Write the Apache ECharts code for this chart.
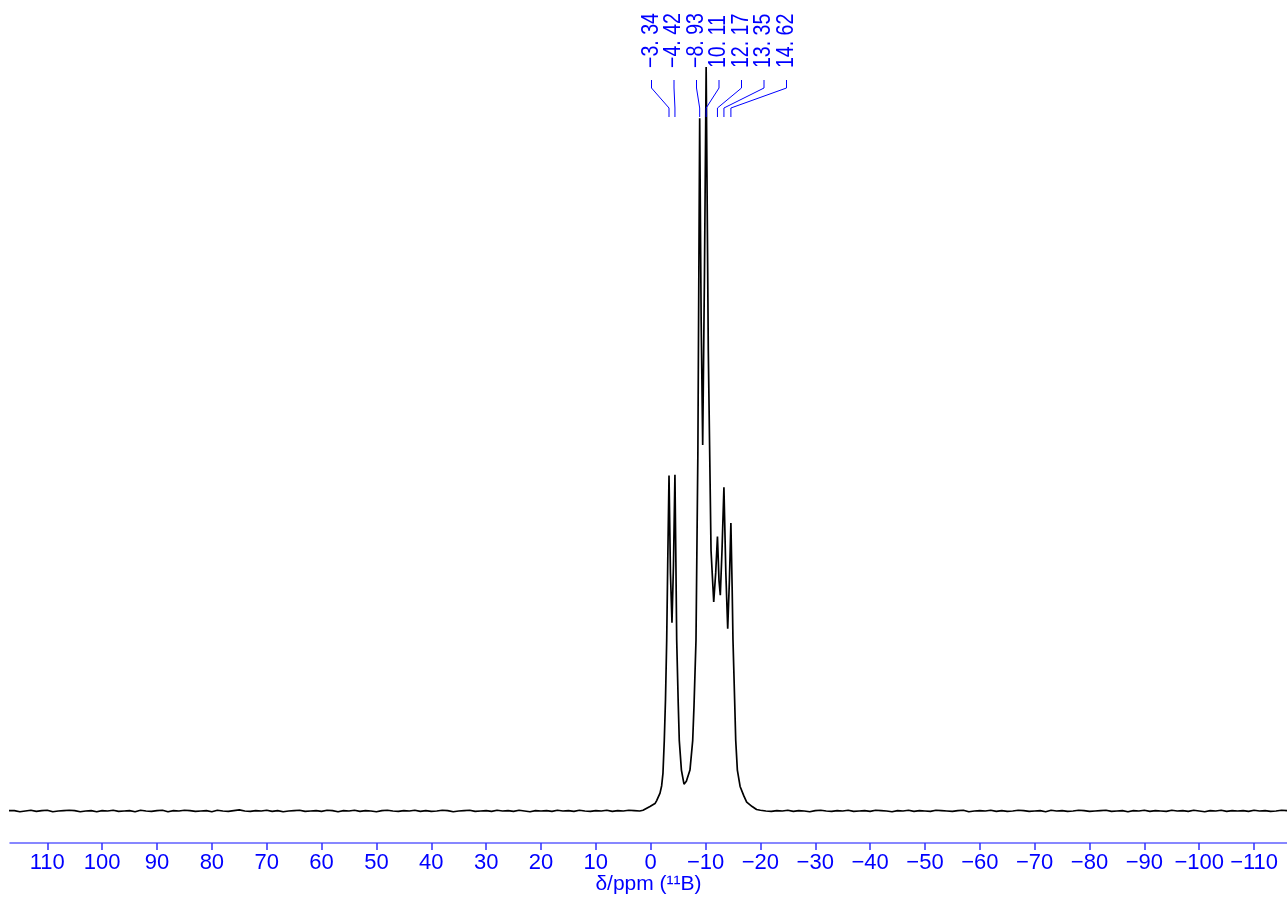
<!DOCTYPE html>
<html>
<head>
<meta charset="utf-8">
<script src="https://cdn.jsdelivr.net/npm/echarts@6/dist/echarts.min.js"></script>
<style>
html,body{margin:0;padding:0;background:#fff;}
#chart{width:1287px;height:897px;}
</style>
</head>
<body>
<div id="chart"></div>
<script>
// ---- data ----
// x axis tick values (ppm)
var tickValues = [110,100,90,80,70,60,50,40,30,20,10,0,-10,-20,-30,-40,-50,-60,-70,-80,-90,-100,-110];
// picked peaks (ppm) and their printed labels
var peakPpm = [-3.34,-4.42,-8.93,-10.11,-12.17,-13.35,-14.62];
var peakLabels = ["\u22123. 34","\u22124. 42","\u22128. 93","10. 11","12. 17","13. 35","14. 62"];
// baseline noise, left part: ppm 117 .. 2 in 1 ppm steps (relative intensity)
var leftNoise = [0.05,
 0.05,-0.1,0.0,0.1,-0.05,0.05,0.1,-0.1,0.0,0.05,
 0.1,0.05,-0.1,0.0,0.05,-0.1,0.05,0.0,0.1,-0.05,
 0.0,0.05,-0.1,0.1,0.0,-0.05,0.05,0.1,-0.1,0.05,
 0.0,0.1,0.05,-0.05,0.0,0.05,-0.1,0.1,0.0,-0.05,
 0.05,0.15,0.0,-0.05,0.05,0.0,0.1,-0.05,0.05,-0.1,
 0.0,0.05,0.1,-0.05,0.0,0.05,-0.05,0.1,0.05,-0.1,
 0.05,0.0,0.1,-0.05,0.05,0.0,-0.1,0.05,0.1,0.0,
 -0.05,0.05,0.0,0.1,-0.05,0.05,-0.05,0.0,0.1,0.05,
 -0.1,0.0,0.05,0.1,-0.05,0.0,0.05,-0.05,0.1,0.0,
 0.05,-0.05,0.1,0.0,-0.1,0.05,0.0,0.05,-0.05,0.1,
 0.0,0.05,-0.05,0.1,0.0,-0.05,0.05,0.0,0.1,-0.05,
 0.05,0.0,0.1,0.05,0.0];
// signal region (ppm, relative intensity)
var signalPpm = [1.4,0.13,-0.78,-1.09,-1.70,-2.0,-2.24,-2.48,-2.7,-2.92,-3.10,-3.34,-3.6,-3.88,-4.15,-4.42,-4.6,-4.74,-5.03,-5.21,-5.6,-6.07,-6.5,-7.16,-7.66,-7.9,-8.26,-8.6,-8.93,-9.2,-9.48,-9.8,-10.11,-10.5,-11.0,-11.49,-11.85,-12.17,-12.45,-12.69,-13.0,-13.35,-13.7,-14.04,-14.35,-14.62,-14.85,-15.0,-15.3,-15.5,-15.8,-16.3,-17.0,-17.5,-18.5,-19.3];
var signalInt = [0.1,0.6,1.0,1.4,2.4,3.4,5.1,9.5,15.0,23.0,33.0,45.1,32.0,25.3,33.0,45.2,33.0,23.0,14.2,9.5,5.5,3.6,4.0,5.5,9.5,14.2,23.0,48.0,93.1,66.0,49.2,72.0,100.0,62.0,35.0,28.1,32.0,36.9,31.0,29.0,35.0,43.5,32.0,24.5,31.0,38.7,30.0,23.0,15.0,9.5,5.5,3.3,2.0,1.2,0.6,0.2];
// baseline noise, right part: ppm -20 .. -117 in 1 ppm steps
var rightNoise = [0.1,0.0,-0.05,0.05,0.0,0.1,-0.05,0.05,0.0,-0.1,
 0.05,0.1,0.0,-0.05,0.05,0.0,0.1,-0.05,0.0,0.05,
 -0.05,0.1,0.05,0.0,-0.1,0.05,0.0,0.1,-0.05,0.05,
 0.0,-0.05,0.1,0.05,0.0,-0.05,0.05,0.1,-0.1,0.0,
 0.05,0.0,0.1,-0.05,0.05,-0.05,0.0,0.1,0.05,-0.05,
 0.0,0.05,-0.1,0.1,0.0,0.05,-0.05,0.0,0.1,0.05,
 -0.05,0.0,0.05,0.1,-0.05,0.0,0.05,-0.1,0.05,0.0,
 0.1,-0.05,0.05,0.0,-0.05,0.1,0.0,0.05,-0.05,0.1,
 0.0,-0.1,0.05,0.0,0.1,-0.05,0.05,0.0,0.05,-0.05,
 0.1,0.0,0.05,-0.05,0.0,0.1,0.05,0.0];

// ---- build the spectrum series ----
var spectrum = [];
leftNoise.forEach(function (v, i) { spectrum.push([117 - i, v]); });
signalPpm.forEach(function (p, i) { spectrum.push([p, signalInt[i]]); });
rightNoise.forEach(function (v, i) { spectrum.push([-20 - i, v]); });

var FONT = '"Liberation Sans",Arial,sans-serif';
var BLUE = '#0000ff';

var chart = echarts.init(document.getElementById('chart'), null, {renderer: 'canvas'});
chart.setOption({
  animation: false,
  backgroundColor: '#ffffff',
  grid: {left: 10, right: 0, top: 0, bottom: 54, containLabel: false, outerBoundsMode: 'none'},
  xAxis: {
    type: 'value',
    inverse: true,
    min: -116.0,
    max: 116.8,
    name: '\u03b4/ppm (\u00b9\u00b9B)',
    nameLocation: 'middle',
    nameGap: 31,
    nameMoveOverlap: false,
    nameTextStyle: {color: BLUE, fontSize: 21, fontFamily: FONT},
    axisLine: {show: true, onZero: false, lineStyle: {color: '#6060ff', width: 1.5}},
    axisTick: {show: true, length: 7, customValues: tickValues, lineStyle: {color: '#3030ff', width: 1.5}},
    axisLabel: {
      customValues: tickValues,
      margin: 9,
      color: BLUE,
      fontSize: 22,
      fontFamily: FONT,
      formatter: function (v) { return String(v).replace('-', '\u2212'); }
    },
    splitLine: {show: false}
  },
  yAxis: {
    type: 'value',
    min: -4.3,
    max: 109,
    show: false
  },
  series: [
    {
      type: 'line',
      data: spectrum,
      showSymbol: false,
      symbol: 'none',
      smooth: false,
      lineStyle: {color: '#000000', width: 1.7},
      z: 2
    },
    {
      type: 'custom',
      coordinateSystem: 'cartesian2d',
      data: peakPpm.map(function (p, i) { return [p, 0, i]; }),
      clip: false,
      z: 3,
      renderItem: function (params, api) {
        var i = api.value(2);
        var px = api.coord([api.value(0), 0])[0];
        var first = api.coord([peakPpm[0], 0])[0];
        var lx = first - 17.5 + i * 22.5;
        return {
          type: 'group',
          children: [
            {
              type: 'polyline',
              shape: {points: [[lx, 80], [lx, 88], [px, 108], [px, 117]]},
              style: {stroke: BLUE, lineWidth: 1, fill: null}
            },
            {
              type: 'text',
              x: lx,
              y: 68,
              rotation: Math.PI / 2,
              scaleX: 0.85,
              style: {
                text: peakLabels[i],
                fill: BLUE,
                font: '23px ' + FONT,
                align: 'left',
                verticalAlign: 'middle'
              }
            }
          ]
        };
      }
    }
  ]
});
</script>
</body>
</html>
